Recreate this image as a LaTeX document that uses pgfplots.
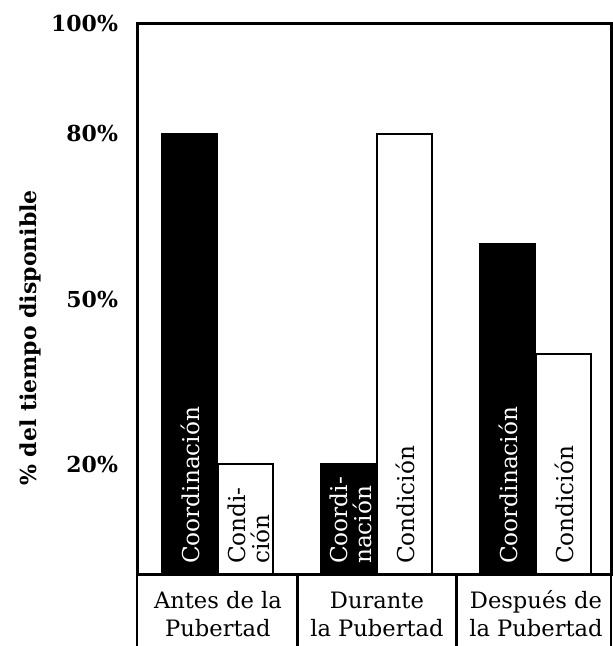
\documentclass[border=0pt]{standalone}
\usepackage{fontspec}
\setmainfont{DejaVu Serif}
\usepackage{pgfplots}
\pgfplotsset{compat=1.18}
\begin{document}
\begin{tikzpicture}
\begin{axis}[
  at={(0,0)}, anchor=south west,
  scale only axis, width=237pt, height=275pt,
  xmin=-0.509, xmax=2.472, ymin=0, ymax=100,
  axis line style={line width=1.5pt},
  clip=false,
  tick style={draw=none}, major tick length=0pt,
  xtick={0,1,2},
  xticklabels={Antes de la\\Pubertad, Durante\\la Pubertad, Después de\\la Pubertad},
  xticklabel style={align=center, anchor=center, yshift=-20pt, font=\fontsize{11.3}{14}\selectfont},
  ytick={20,50,80,100},
  yticklabels={\raisebox{-2pt}{20\%}, \raisebox{-5.5pt}{50\%}, \raisebox{-7.5pt}{80\%}, \raisebox{-2pt}{100\%}},
  yticklabel style={font=\bfseries\fontsize{11}{13}\selectfont, xshift=-6pt, anchor=east},
  ybar, bar width=0.346,
]
\addplot[fill=black, draw=black, line width=1pt, bar shift=-0.176] coordinates {(0,80) (1,20) (2,60)};
\addplot[fill=white, draw=black, line width=1pt, bar shift=0.176] coordinates {(0,20) (1,80) (2,40)};

% category box below the axis
\draw[line width=1.2pt] ([yshift=-36pt]rel axis cs:0,0) -- (rel axis cs:0,0);
\draw[line width=1.2pt] ([yshift=-36pt]axis cs:0.5,0) -- (axis cs:0.5,0);
\draw[line width=1.2pt] ([yshift=-36pt]axis cs:1.5,0) -- (axis cs:1.5,0);
\draw[line width=1.2pt] ([yshift=-36pt]rel axis cs:1,0) -- (rel axis cs:1,0);

% texts inside the bars
\node[rotate=90, anchor=west, text=white, font=\fontsize{11.6}{12}\selectfont] at ([yshift=1.5pt]axis cs:-0.176,0) {Coordinación};
\node[rotate=90, anchor=west, align=left, font=\fontsize{11.6}{12}\selectfont] at ([yshift=1.5pt,xshift=1.5pt]axis cs:0.176,0) {Condi-\\ción};
\node[rotate=90, anchor=west, align=left, text=white, font=\fontsize{11.6}{12}\selectfont] at ([yshift=1.5pt,xshift=1pt]axis cs:0.824,0) {Coordi-\\nación};
\node[rotate=90, anchor=west, font=\fontsize{11.6}{12}\selectfont] at ([yshift=1.5pt]axis cs:1.176,0) {Condición};
\node[rotate=90, anchor=west, text=white, font=\fontsize{11.6}{12}\selectfont] at ([yshift=1.5pt]axis cs:1.824,0) {Coordinación};
\node[rotate=90, anchor=west, font=\fontsize{11.6}{12}\selectfont] at ([yshift=1.5pt]axis cs:2.176,0) {Condición};

% y axis title
\node[rotate=90, anchor=center, font=\bfseries\fontsize{11}{13}\selectfont] at ([xshift=-53.5pt]rel axis cs:0,0.429) {\% del tiempo disponible};
\end{axis}
\pgfresetboundingbox
\path (-68.5pt,-36pt) rectangle (238pt,287pt);
\end{tikzpicture}
\end{document}
